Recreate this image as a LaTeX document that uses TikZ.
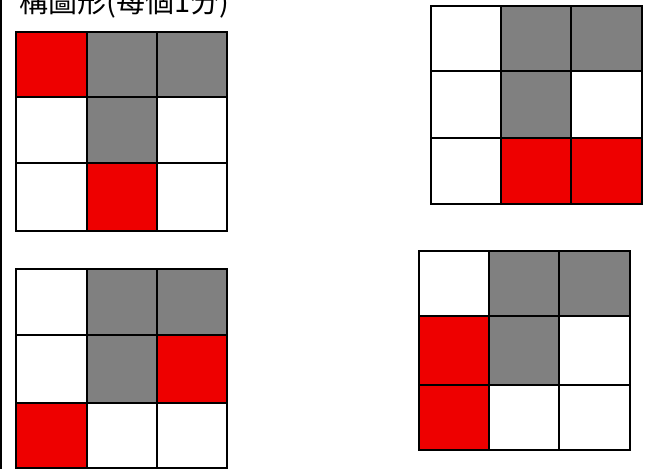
\documentclass[tikz,border=0pt]{standalone}
\usepackage{fontspec}
\newfontfamily\cjk{Noto Sans CJK TC}
\definecolor{cred}{HTML}{EE0000}
\definecolor{cgray}{HTML}{808080}
\newcommand\drawgrid[3]{%
  \foreach \cc [count=\ii from 0] in {#3}{%
    \pgfmathtruncatemacro\rw{div(\ii,3)}%
    \pgfmathtruncatemacro\cl{mod(\ii,3)}%
    \pgfmathsetmacro\xa{{#1}[\cl]}%
    \pgfmathsetmacro\xb{{#1}[\cl+1]}%
    \pgfmathsetmacro\ya{{#2}[\rw]}%
    \pgfmathsetmacro\yb{{#2}[\rw+1]}%
    \fill[\cc] (\xa,\ya) rectangle (\xb,\yb);
  }%
  \pgfmathsetmacro\xs{{#1}[0]}\pgfmathsetmacro\xe{{#1}[3]}%
  \pgfmathsetmacro\ys{{#2}[0]}\pgfmathsetmacro\ye{{#2}[3]}%
  \foreach \kk in {0,...,3}{%
    \pgfmathsetmacro\xk{{#1}[\kk]}%
    \pgfmathsetmacro\yk{{#2}[\kk]}%
    \draw[gl] (\xk,\ys) -- (\xk,\ye);
    \draw[gl] (\xs,\yk) -- (\xe,\yk);
  }%
}
\begin{document}
\begin{tikzpicture}[x=1pt,y=-1pt,
  gl/.style={line width=2.5pt, line cap=rect, draw=black}]
\useasboundingbox (0,0) rectangle (653,469);
\clip (0,0) rectangle (653,469);
\fill[white] (0,0) rectangle (653,469);
\draw[line width=2.2pt] (1.1,0) -- (1.1,469);
\node[anchor=base west, inner sep=0pt, font=\cjk\fontsize{29}{29}\selectfont] (title) at (19,12) {構圖形(每個1分)};
\drawgrid{16,87,157,227}{32,97,163,231}{cred,cgray,cgray,white,cgray,white,white,cred,white}
\drawgrid{431,501,571,642}{6,71,138,204}{white,cgray,cgray,white,cgray,white,white,cred,cred}
\drawgrid{16,87,157,227}{269,335,403,468}{white,cgray,cgray,white,cgray,cred,cred,white,white}
\drawgrid{419,489,559,630}{251,316,385,450}{white,cgray,cgray,cred,cgray,white,cred,white,white}
\end{tikzpicture}
\end{document}
